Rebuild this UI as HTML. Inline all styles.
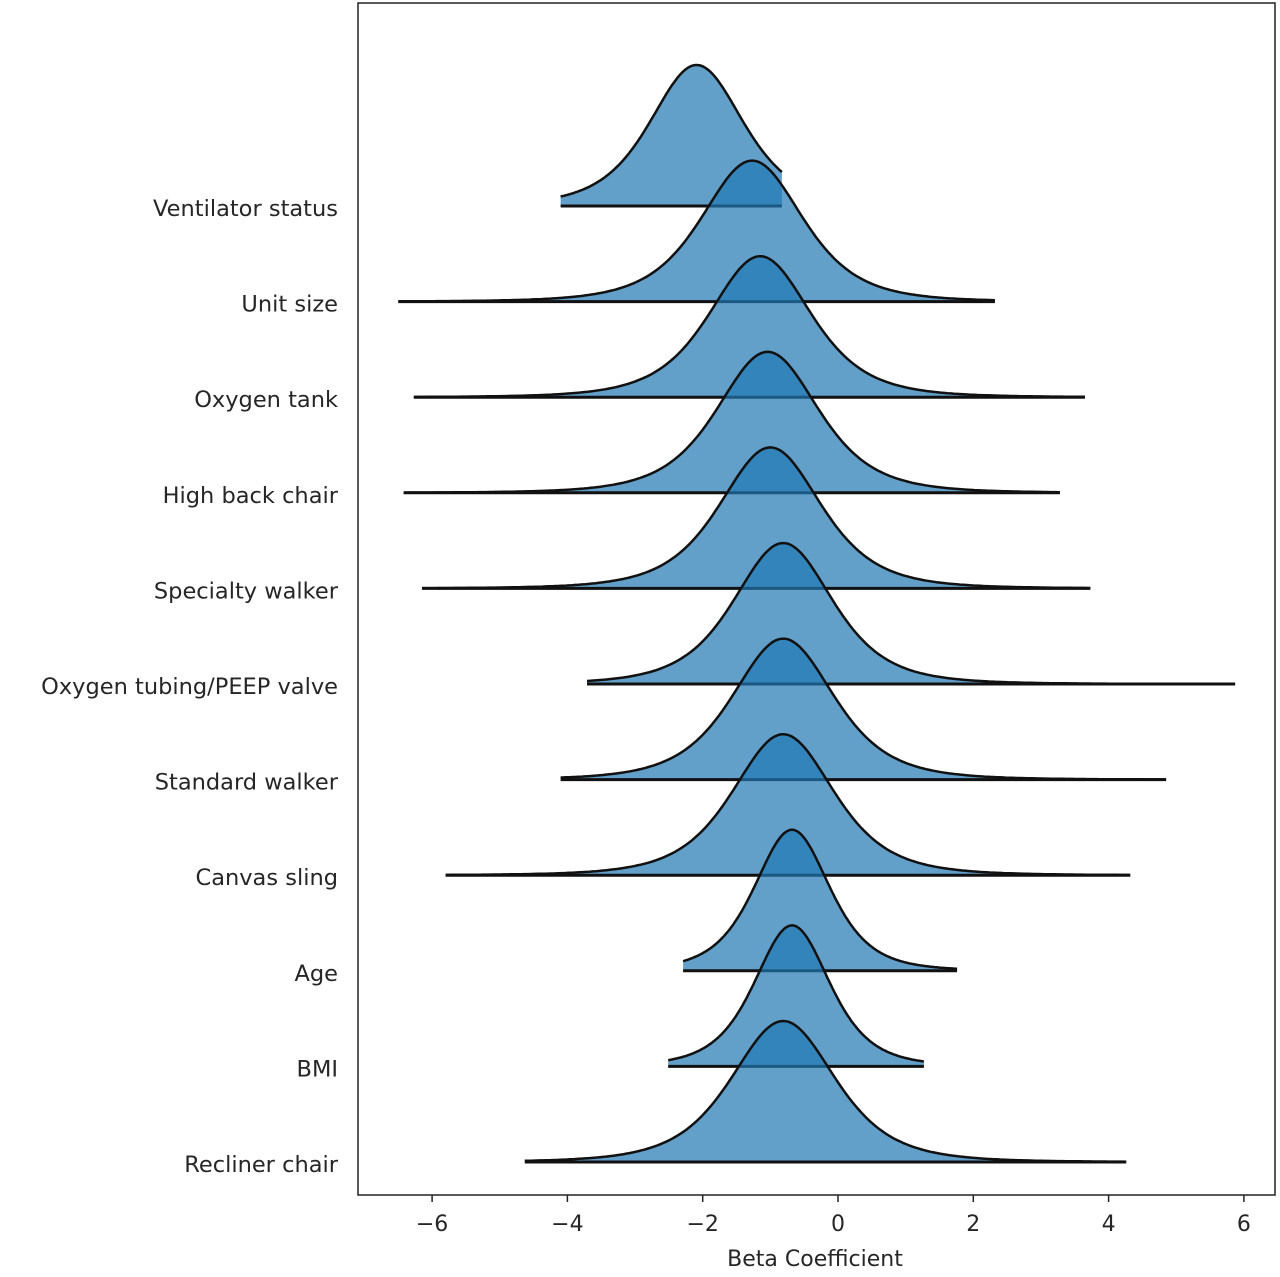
<!DOCTYPE html>
<html><head><meta charset="utf-8"><style>
html,body{margin:0;padding:0;background:#fff;}
svg text{font-family:"DejaVu Sans","Liberation Sans",sans-serif;fill:#262626;}
</style></head><body>
<svg id="chart" width="1280" height="1272" xmlns="http://www.w3.org/2000/svg">
<g id="ridges"></g>
<rect x="358" y="3" width="917" height="1192" fill="none" stroke="#222" stroke-width="1.5"/>
<g id="xaxis"></g>
<g id="ylabels"></g>
<text x="815" y="1266" font-size="22" text-anchor="middle">Beta Coefficient</text>
</svg>
<script>
const categories=["Ventilator status","Unit size","Oxygen tank","High back chair","Specialty walker","Oxygen tubing/PEEP valve","Standard walker","Canvas sling","Age","BMI","Recliner chair"];
const modes=[-2.09,-1.27,-1.15,-1.04,-1.0,-0.81,-0.81,-0.81,-0.68,-0.68,-0.81];
const scales=[0.72,0.78,0.78,0.78,0.78,0.76,0.78,0.78,0.58,0.58,0.8];
const mins=[-4.1,-6.5,-6.27,-6.42,-6.15,-3.71,-4.1,-5.8,-2.29,-2.51,-4.63];
const maxs=[-0.83,2.32,3.65,3.28,3.73,5.87,4.85,4.32,1.76,1.27,4.26];
const xTicks=[-6,-4,-2,0,2,4,6];
const NS="http://www.w3.org/2000/svg";
const x=v=>838+v*67.65;
const rowY=i=>206+i*95.6;
const peakH=141;
const ridges=document.getElementById('ridges');
categories.forEach((c,i)=>{
  const base=rowY(i);
  let pts=[];
  const n=200;
  for(let k=0;k<=n;k++){
    const v=mins[i]+(maxs[i]-mins[i])*k/n;
    const z=(v-modes[i])/scales[i];
    const d=Math.pow(1+z*z/4,-2.5);
    pts.push([x(v),base-peakH*d]);
  }
  const g=document.createElementNS(NS,'g');
  
  
  const dstr='M'+x(mins[i])+','+base+' L'+pts.map(p=>p[0].toFixed(1)+','+p[1].toFixed(1)).join(' L')+' L'+x(maxs[i])+','+base+' Z';
  const fill=document.createElementNS(NS,'path');
  
  
  fill.setAttribute('d',dstr);
  fill.setAttribute('fill','rgba(31,119,180,0.7)');
  g.appendChild(fill);
  const line=document.createElementNS(NS,'path');
  
  
  line.setAttribute('d','M'+pts.map(p=>p[0].toFixed(1)+','+p[1].toFixed(1)).join(' L'));
  line.setAttribute('fill','none');line.setAttribute('stroke','#111');line.setAttribute('stroke-width','2.5');
  g.appendChild(line);
  const bl=document.createElementNS(NS,'line');
  
  
  bl.setAttribute('x1',x(mins[i]));bl.setAttribute('x2',x(maxs[i]));
  bl.setAttribute('y1',base);bl.setAttribute('y2',base);
  bl.setAttribute('stroke','#111');bl.setAttribute('stroke-width','3');
  g.appendChild(bl);
  ridges.appendChild(g);
  const t=document.createElementNS(NS,'text');
  
  
  t.setAttribute('x',338);t.setAttribute('y',base+10);
  t.setAttribute('font-size','22.5');t.setAttribute('text-anchor','end');
  t.textContent=c;
  document.getElementById('ylabels').appendChild(t);
});
const xa=document.getElementById('xaxis');
xTicks.forEach(v=>{
  const tk=document.createElementNS(NS,'line');
  
  
  tk.setAttribute('x1',x(v));tk.setAttribute('x2',x(v));
  tk.setAttribute('y1',1195);tk.setAttribute('y2',1202);
  tk.setAttribute('stroke','#222');tk.setAttribute('stroke-width','1.5');
  xa.appendChild(tk);
  const t=document.createElementNS(NS,'text');
  
  
  t.setAttribute('x',x(v));t.setAttribute('y',1231);
  t.setAttribute('font-size','22');t.setAttribute('text-anchor','middle');
  t.textContent=(v<0?'\u2212'+(-v):String(v));
  xa.appendChild(t);
});
</script>
</body></html>
